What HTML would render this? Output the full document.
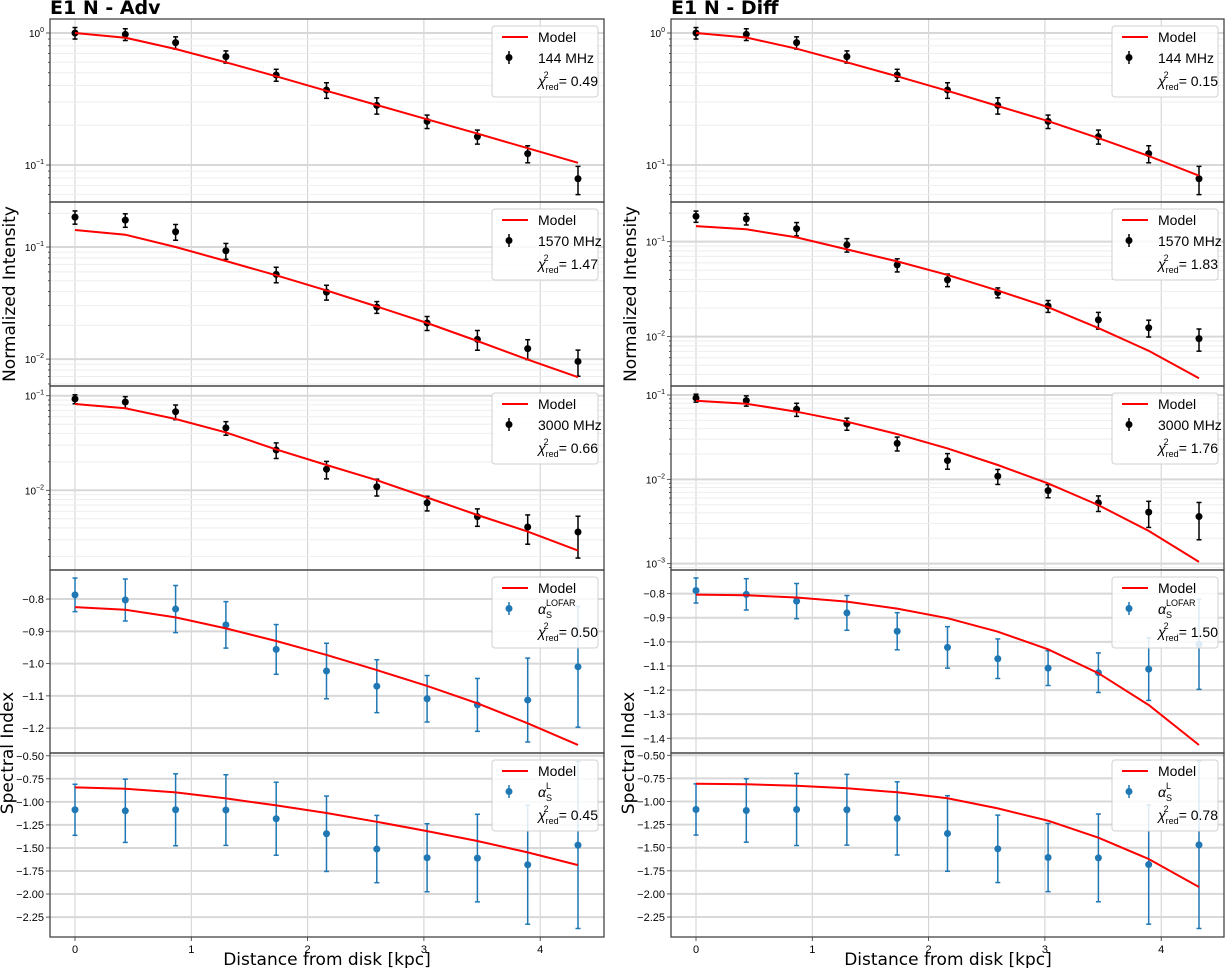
<!DOCTYPE html>
<html><head><meta charset="utf-8">
<style>
html,body{margin:0;padding:0;background:#fff;}
svg{display:block;font-family:"DejaVu Sans","Liberation Sans",sans-serif;}
</style></head>
<body>
<svg id="fig" width="1228" height="968" viewBox="0 0 1228 968" xmlns="http://www.w3.org/2000/svg">
<text x="50" y="14" font-size="19" font-weight="bold" font-family="DejaVu Sans, sans-serif">E1 N - Adv</text>
<text x="671" y="14" font-size="19" font-weight="bold" font-family="DejaVu Sans, sans-serif">E1 N - Diff</text>
<text transform="translate(15,294) rotate(-90)" text-anchor="middle" font-size="17">Normalized Intensity</text>
<text transform="translate(636,294) rotate(-90)" text-anchor="middle" font-size="17">Normalized Intensity</text>
<text transform="translate(13,753) rotate(-90)" text-anchor="middle" font-size="17">Spectral Index</text>
<text transform="translate(634,753) rotate(-90)" text-anchor="middle" font-size="17">Spectral Index</text>
<text x="327" y="965" text-anchor="middle" font-size="17">Distance from disk [kpc]</text>
<text x="948" y="965" text-anchor="middle" font-size="17">Distance from disk [kpc]</text>
</svg>
<script>
const distances = [0,0.4325,0.865,1.2975,1.73,2.1625,2.595,3.0275,3.46,3.8925,4.325];
const xTicks = [0,1,2,3,4];
const int144 = [1.0,0.977,0.845,0.662,0.481,0.370,0.283,0.214,0.164,0.122,0.0787];
const err144 = [0.10,0.10,0.09,0.07,0.05,0.05,0.04,0.025,0.02,0.018,0.019];
const int1570 = [0.185,0.174,0.137,0.0927,0.057,0.0396,0.0291,0.0210,0.0150,0.0124,0.00953];
const err1570 = [0.025,0.024,0.022,0.015,0.009,0.006,0.0035,0.003,0.003,0.0025,0.0025];
const int3000 = [0.0923,0.0858,0.0678,0.0457,0.0267,0.0167,0.0109,0.00735,0.00526,0.00409,0.00362];
const err3000 = [0.01,0.012,0.012,0.0075,0.005,0.0035,0.0022,0.0013,0.0011,0.0014,0.0017];
const alphaLofar = [-0.787,-0.803,-0.831,-0.880,-0.956,-1.023,-1.070,-1.109,-1.128,-1.113,-1.010];
const errLofar = [0.052,0.065,0.073,0.072,0.077,0.086,0.082,0.072,0.082,0.13,0.187];
const alphaL = [-1.086,-1.097,-1.086,-1.089,-1.183,-1.346,-1.512,-1.606,-1.610,-1.682,-1.469];
const errL = [0.277,0.343,0.39,0.383,0.396,0.409,0.365,0.369,0.475,0.645,0.905];
const modelAdv144 = [1.0,0.922,0.757,0.60,0.47,0.365,0.285,0.222,0.173,0.134,0.104];
const modelAdv1570 = [0.142,0.129,0.1,0.075,0.056,0.041,0.0295,0.021,0.0145,0.0099,0.0069];
const modelAdv3000 = [0.0817,0.0736,0.0568,0.041,0.0271,0.0185,0.0128,0.0084,0.00548,0.00366,0.0023];
const modelAdvLofar = [-0.825,-0.833,-0.857,-0.891,-0.930,-0.973,-1.020,-1.069,-1.123,-1.185,-1.252];
const modelAdvL = [-0.843,-0.858,-0.897,-0.962,-1.038,-1.121,-1.216,-1.317,-1.425,-1.548,-1.686];
const modelDiff144 = [1.0,0.925,0.76,0.60,0.47,0.365,0.28,0.215,0.16,0.117,0.083];
const modelDiff1570 = [0.146,0.135,0.111,0.083,0.062,0.0447,0.0305,0.0204,0.0123,0.0071,0.00365];
const modelDiff3000 = [0.0857,0.079,0.0634,0.0483,0.0344,0.0233,0.0148,0.00895,0.00495,0.00245,0.00105];
const modelDiffLofar = [-0.804,-0.807,-0.816,-0.833,-0.862,-0.902,-0.958,-1.031,-1.130,-1.262,-1.428];
const modelDiffL = [-0.807,-0.814,-0.829,-0.857,-0.900,-0.965,-1.074,-1.208,-1.392,-1.622,-1.925];
const chiAdv = ["0.49","1.47","0.66","0.50","0.45"];
const chiDiff = ["0.15","1.83","1.76","1.50","0.78"];
const logTicks = [0,-1,-2,-3];
const ticksLofarAdv = [-0.8,-0.9,-1.0,-1.1,-1.2];
const ticksLofarDiff = [-0.8,-0.9,-1.0,-1.1,-1.2,-1.3,-1.4];
const ticksL = [-0.5,-0.75,-1.0,-1.25,-1.5,-1.75,-2.0,-2.25];

const NS='http://www.w3.org/2000/svg';
const svg=document.getElementById('fig');
function mk(tag,attrs,parent){const e=document.createElementNS(NS,tag);for(const k in attrs)e.setAttribute(k,attrs[k]);(parent||svg).appendChild(e);return e;}
const rowsY=[19,202,386,570,753,937];
const cols=[
 {name:'adv',x0:50,x1:604,px0:75,ppk:116.3,
  doms:[[0.106,-1.28],[-0.598,-2.24],[-0.897,-2.843],[-0.710,-1.277],[-0.47,-2.466]],
  models:[modelAdv144,modelAdv1570,modelAdv3000,modelAdvLofar,modelAdvL],chi:chiAdv,lofTicks:ticksLofarAdv},
 {name:'diff',x0:671,x1:1224,px0:696,ppk:116.3,
  doms:[[0.106,-1.28],[-0.582,-2.52],[-0.893,-3.075],[-0.702,-1.461],[-0.475,-2.466]],
  models:[modelDiff144,modelDiff1570,modelDiff3000,modelDiffLofar,modelDiffL],chi:chiDiff,lofTicks:ticksLofarDiff}
];
const dataSets=[[int144,err144],[int1570,err1570],[int3000,err3000],[alphaLofar,errLofar],[alphaL,errL]];
const labels=['144 MHz','1570 MHz','3000 MHz','LOFAR','L'];
const fmt=v=>(v<0?'\u2212':'')+Math.abs(v).toFixed(2);
const fmt1=v=>(v<0?'\u2212':'')+Math.abs(v).toFixed(1);
const LF='Liberation Sans, sans-serif';

cols.forEach(c=>{
 const X=d=>c.px0+d*c.ppk;
 for(let p=0;p<5;p++){
  const top=rowsY[p],bot=rowsY[p+1];
  const isLog=p<3;
  const [d0,d1]=c.doms[p];
  const Y=v=>{const t=isLog?Math.log10(v):v;return top+(d0-t)/(d0-d1)*(bot-top);};
  const g=mk('g',{});
  
  
  xTicks.forEach(t=>{const l=mk('line',{x1:X(t),x2:X(t),y1:top,y2:bot,stroke:'#d0d0d0','stroke-width':1},g);
   });
  if(isLog){
   for(let dec=Math.floor(d1);dec<=Math.ceil(d0);dec++){
    for(let m=1;m<10;m++){
     const lv=dec+Math.log10(m);
     if(lv>d0||lv<d1)continue;
     const y=top+(d0-lv)/(d0-d1)*(bot-top);
     const l=mk('line',{x1:c.x0,x2:c.x1,y1:y,y2:y,stroke:m==1?'#d8d8d8':'#eeeeee','stroke-width':m==1?2:1},g);
     
     mk('line',{x1:c.x0-(m==1?4:2),x2:c.x0,y1:y,y2:y,stroke:'#333','stroke-width':0.8},g);
    }
   }
   logTicks.forEach(t=>{
    if(t>d0||t<d1)return;
    const y=top+(d0-t)/(d0-d1)*(bot-top);
    const tx=mk('text',{x:c.x0-6,y:y+4,'text-anchor':'end','font-size':10,'font-family':LF},g);
    
    tx.textContent='10';
    const s=mk('tspan',{dy:-5,'font-size':7},tx);s.textContent=t==0?'0':'\u2212'+Math.abs(t);
   });
  }else{
   const ticks=p==3?c.lofTicks:ticksL;
   ticks.forEach(t=>{
    const y=Y(t);
    const l=mk('line',{x1:c.x0,x2:c.x1,y1:y,y2:y,stroke:'#d8d8d8','stroke-width':2},g);
    
    mk('line',{x1:c.x0-4,x2:c.x0,y1:y,y2:y,stroke:'#333','stroke-width':0.8},g);
    const tx=mk('text',{x:c.x0-6,y:y+4,'text-anchor':'end','font-size':11,'font-family':LF},g);
    
    tx.textContent=p==3?fmt1(t):fmt(t);
   });
  }
  const [vals,errs]=dataSets[p];
  const col=p<3?'#000':'#1f77b4';
  vals.forEach((v,i)=>{
   const x=X(distances[i]);
   const lo=isLog?Math.max(v-errs[i],v*0.05):v-errs[i];
   const ya=Y(v+errs[i]),yb=Y(lo);
   const eb=mk('g',{},g);
   
   mk('line',{x1:x,x2:x,y1:ya,y2:yb,stroke:col,'stroke-width':1.5},eb);
   mk('line',{x1:x-2.5,x2:x+2.5,y1:ya,y2:ya,stroke:col,'stroke-width':1.5},eb);
   mk('line',{x1:x-2.5,x2:x+2.5,y1:yb,y2:yb,stroke:col,'stroke-width':1.5},eb);
   const pt=mk('circle',{cx:x,cy:Y(v),r:3.5,fill:col},g);
   
  });
  const mv=c.models[p];
  const pts=mv.map((v,i)=>X(distances[i]).toFixed(1)+','+Y(v).toFixed(1)).join(' ');
  const pl=mk('polyline',{points:pts,fill:'none',stroke:'#ff0000','stroke-width':2},g);
  
  const fr=mk('rect',{x:c.x0,y:top,width:c.x1-c.x0,height:bot-top,fill:'none',stroke:'#444','stroke-width':1.3},g);
  
  const lx=c.x1-112,ly=top+7;
  const lg=mk('g',{'font-family':LF},g);
  
  mk('rect',{x:lx,y:ly,width:106,height:71,rx:3,fill:'#fff','fill-opacity':0.85,stroke:'#d0d0d0'},lg);
  mk('line',{x1:lx+10,x2:lx+36,y1:ly+11,y2:ly+11,stroke:'#ff0000','stroke-width':2},lg);
  const t1=mk('text',{x:lx+46,y:ly+16,'font-size':14},lg);t1.textContent='Model';
  mk('line',{x1:lx+17,x2:lx+17,y1:ly+25,y2:ly+38,stroke:col,'stroke-width':1.5},lg);
  mk('circle',{cx:lx+17,cy:ly+31.5,r:3.5,fill:col},lg);
  if(p<3){const t2=mk('text',{x:lx+46,y:ly+37,'font-size':14},lg);t2.textContent=labels[p];}
  else{const t2=mk('text',{x:lx+46,y:ly+37,'font-size':14,'font-style':'italic'},lg);t2.textContent='\u03b1';
   const s1=mk('tspan',{dy:4,'font-size':9,'font-style':'normal'},t2);s1.textContent='S';
   const s2=mk('tspan',{dx:-6,dy:-12,'font-size':9,'font-style':'normal'},t2);s2.textContent=labels[p];}
  const t3=mk('text',{x:lx+46,y:ly+60,'font-size':14},lg);
  const a=mk('tspan',{'font-style':'italic'},t3);a.textContent='\u03c7';
  const b=mk('tspan',{dy:4,'font-size':9},t3);b.textContent='red';
  const cc=mk('tspan',{dx:-15,dy:-12,'font-size':9},t3);cc.textContent='2';
  const d=mk('tspan',{dx:10,dy:8},t3);d.textContent='= '+c.chi[p];
 }
 xTicks.forEach(t=>{
  mk('line',{x1:X(t),x2:X(t),y1:937,y2:941,stroke:'#333','stroke-width':0.8});
  const tx=mk('text',{x:X(t),y:953,'text-anchor':'middle','font-size':11,'font-family':LF});
  
  tx.textContent=t;
 });
});
</script>
</body></html>
